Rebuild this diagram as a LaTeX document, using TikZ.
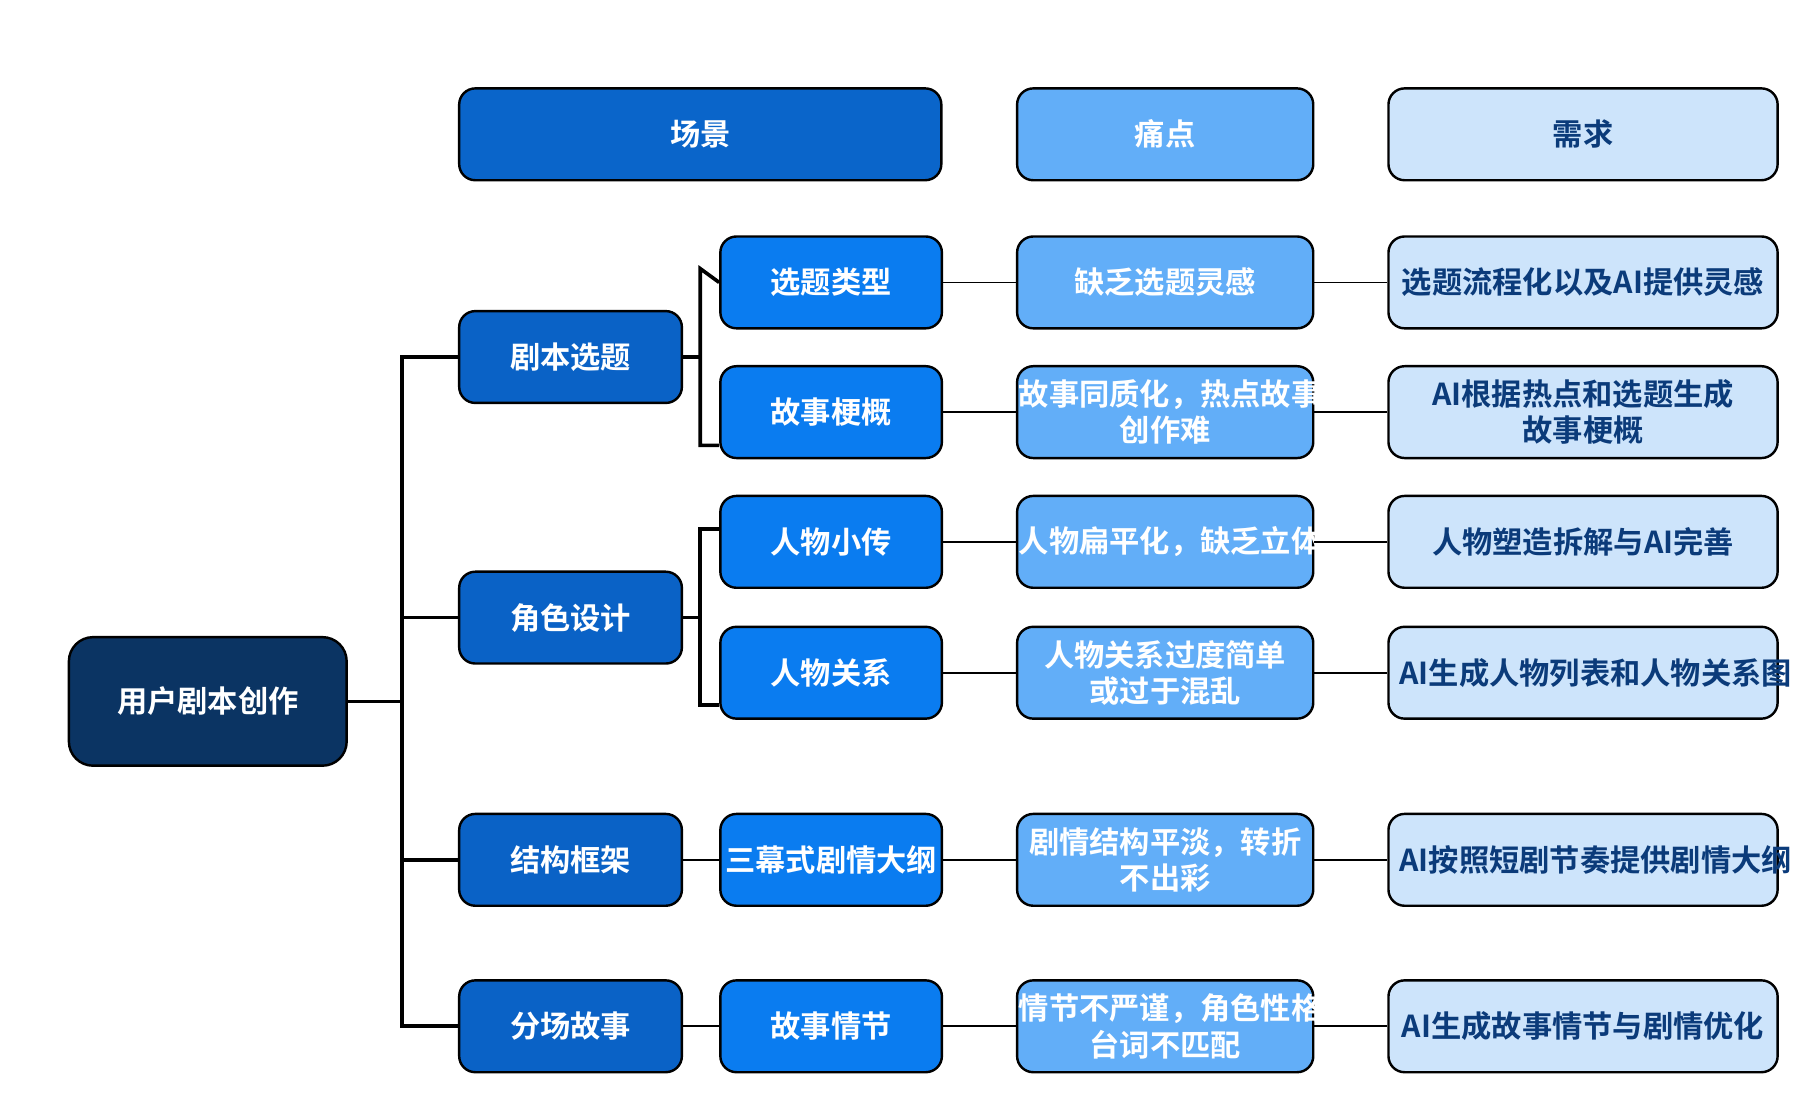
\documentclass[tikz,border=0pt]{standalone}
\usepackage{fontspec}
\setmainfont{Noto Sans CJK SC}[BoldFont={Noto Sans CJK SC Bold}]
\usetikzlibrary{positioning}
\definecolor{navy}{HTML}{0B3463}
\definecolor{midblue}{HTML}{0A62C6}
\definecolor{brightblue}{HTML}{0A7CF0}
\definecolor{painblue}{HTML}{62AEF8}
\definecolor{needblue}{HTML}{CDE4FB}
\definecolor{needtext}{HTML}{0B3B7A}
\tikzset{
  box/.style={draw=black, line width=1.2pt, rounded corners=8pt, align=center,
    font=\bfseries\fontsize{15}{18}\selectfont, inner sep=0pt, minimum height=16mm},
  root/.style={box, fill=navy, text=white, minimum width=48.4mm, minimum height=22.4mm, rounded corners=12pt},
  stage/.style={box, fill=midblue, text=white, minimum width=38.8mm},
  sub/.style={box, fill=brightblue, text=white, minimum width=38.6mm},
  pain/.style={box, fill=painblue, text=white, minimum width=51.6mm, text width=51mm},
  need/.style={box, fill=needblue, text=needtext, minimum width=67.8mm, text width=64mm},
  link/.style={line width=1.8pt},
  thin/.style={line width=0.8pt}
}
\begin{document}
\begin{tikzpicture}[x=0.2mm, y=-0.2mm]
\useasboundingbox (0,0) rectangle (1568,975);

% header
\node[box, fill=midblue!90!brightblue, text=white, minimum width=84mm] (hscene) at (610,117) {场景};
\node[pain] (hpain) at (1015,117) {痛点};
\node[need] (hneed) at (1379,117) {需求};

% root and stages
\node[root] (root) at (181,611) {用户剧本创作};
\node[stage] (s1) at (497,311) {剧本选题};
\node[stage] (s2) at (497,538) {角色设计};
\node[stage] (s3) at (497,749) {结构框架};
\node[stage] (s4) at (497,894) {分场故事};

% rows
\foreach \n/\y/\a/\b/\c in {
  r1/246/选题类型/缺乏选题灵感/选题流程化以及AI提供灵感,
  r2/359/故事梗概/故事同质化，热点故事\\创作难/AI根据热点和选题生成\\故事梗概,
  r3/472/人物小传/人物扁平化，缺乏立体度/人物塑造拆解与AI完善,
  r4/586/人物关系/人物关系过度简单\\或过于混乱/AI生成人物列表和人物关系图,
  r5/749/三幕式剧情大纲/剧情结构平淡，转折\\不出彩/AI按照短剧节奏提供剧情大纲,
  r6/894/故事情节/情节不严谨，角色性格和\\台词不匹配/AI生成故事情节与剧情优化}{
  \node[sub] (\n a) at (724,\y) {\a};
  \node[pain] (\n b) at (1015,\y) {\b};
  \node[need] (\n c) at (1379,\y) {\c};
  \draw[thin] (\n a) -- (\n b);
  \draw[thin] (\n b) -- (\n c);
}

% trunk
\coordinate (tr) at (350,611);
\draw[link] (root.east) -- (tr);
\draw[link] (s1.west) -- (350,311) |- (s4.west);
\draw[link] (s2.west) -- (350,538);
\draw[link] (s3.west) -- (350,749);

% brackets
\draw[link] (s1.east) -- (610,311);
\draw[link] (r1a.west) -- (610,234) -- (610,388) -- (r2a.west |- 0,388);
\draw[link] (s2.east) -- (610,538);
\draw[link] (r3a.west |- 0,461) -- (610,461) -- (610,614) -- (r4a.west |- 0,614);
\draw[thin] (s3) -- (r5a);
\draw[thin] (s4) -- (r6a);
\end{tikzpicture}
\end{document}
